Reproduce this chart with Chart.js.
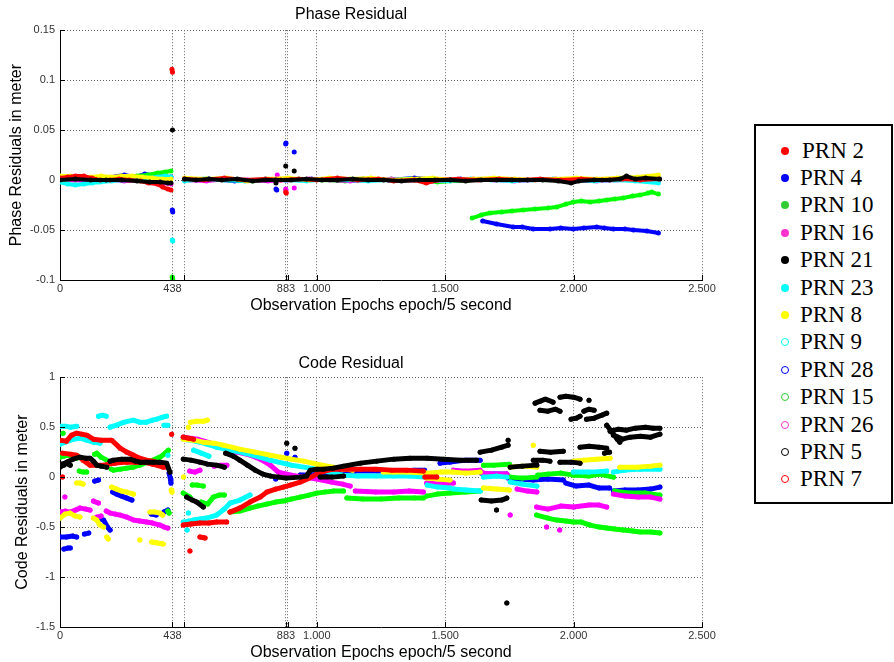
<!DOCTYPE html>
<html>
<head>
<meta charset="utf-8">
<title>Phase / Code Residual</title>
<script src="https://cdn.jsdelivr.net/npm/chart.js@4.4.1/dist/chart.umd.min.js"></script>
<style>
  body { margin: 0; background: #fff; width: 894px; height: 662px; position: relative; overflow: hidden; }
  .plot { position: absolute; left: 0; width: 720px; }
  #phaseBox { top: 0; height: 320px; }
  #codeBox { top: 340px; height: 322px; }
  #legend {
    position: absolute; left: 754px; top: 124px; width: 139px; height: 380px;
    box-sizing: border-box; border: 2px solid #000; padding-top: 11px;
    font-family: "Liberation Serif", "Times New Roman", serif; font-size: 23px; color: #000;
  }
  .row { height: 27.4px; display: flex; align-items: center; white-space: nowrap; }
  .dot { width: 8px; height: 8px; border-radius: 50%; margin-left: 25px; margin-right: 11px; box-sizing: border-box; flex: none; }
</style>
</head>
<body>
<div id="phaseBox" class="plot"><canvas id="phaseChart"></canvas></div>
<div id="codeBox" class="plot"><canvas id="codeChart"></canvas></div>
<div id="legend"></div>
<script>
// ticks of the epoch axis (two extra grid lines without label, like the matlab figure)
const epochTicks = [0, 438, 483, 880, 887, 1000, 1500, 2000, 2500];
const epochTickLabels = ['0', '438', '', '883', '', '1.000', '1.500', '2.000', '2.500'];
const phaseTicks = [-0.1, -0.05, 0, 0.05, 0.1, 0.15];
const phaseTickLabels = ['-0.1', '-0.05', '0', '0.05', '0.1', '0.15'];
const codeTicks = [-1.5, -1, -0.5, 0, 0.5, 1];
const codeTickLabels = ['-1.5', '-1', '-0.5', '0', '0.5', '1'];

// legend
const legendLabels = ['PRN 2', 'PRN 4', 'PRN 10', 'PRN 16', 'PRN 21', 'PRN 23', 'PRN 8', 'PRN 9', 'PRN 28', 'PRN 15', 'PRN 26', 'PRN 5', 'PRN 7'];
const legendColors = ['#ff0000', '#0000ff', '#33cc33', '#ff33cc', '#000000', '#00ffff', '#ffff00', '#00ffff', '#0000ff', '#33cc33', '#ff33cc', '#000000', '#ff0000'];
const legendFilled = [true, true, true, true, true, true, true, false, false, false, false, false, false];

// phase residuals [epoch, meter], null = gap between tracks
const phasePRN2 = [
  [0,0.002],[30,0.003],[60,0.004],[93,0.004],[125,0.002],[157,0.0],[195,0.0],[230,0.001],[270,0.0],[313,-0.001],[345,-0.003],[378,-0.004],[400,-0.007],[420,-0.009],[432,-0.010], null,
  [436,0.111],[438,0.108], null,
  [485,0.001],[560,0.0],[640,0.002],[720,0.0],[800,0.001],[860,0.0],[930,0.001],[1000,0.0],[1080,0.002],[1160,0.0],[1240,0.001],[1300,-0.001],[1380,0.0],[1426,-0.003],[1470,0.0],[1550,0.001],[1630,0.0],[1710,0.001],[1790,0.0],[1870,0.001],[1950,0.0],[2030,0.001],[2110,0.0],[2190,0.001],[2260,0.0],[2330,0.001], null,
  [879,-0.012],[881,-0.013]
];
const phasePRN4 = [
  [0,0.001],[60,0.001],[120,0.002],[180,0.002],[250,0.005],[290,0.003],[330,0.006],[380,0.004],[432,0.003], null,
  [437,-0.030],[439,-0.032], null,
  [485,0.0],[580,0.001],[680,-0.001],[780,0.0],[880,0.0],[980,0.001],[1080,0.0],[1180,0.001],[1280,0.0],[1380,0.002],[1480,0.0],[1560,0.001], null,
  [841,-0.009],[844,-0.010], null,
  [879,0.036],[880,0.037], null,
  [912,0.028], null,
  [1646,-0.041],[1700,-0.044],[1765,-0.047],[1800,-0.047],[1843,-0.049],[1908,-0.049],[1950,-0.048],[1999,-0.049],[2040,-0.048],[2090,-0.047],[2120,-0.048],[2155,-0.049],[2200,-0.049],[2233,-0.050],[2285,-0.051],[2330,-0.053]
];
const phasePRN10 = [
  [0,0.001],[60,0.0],[120,0.001],[180,0.002],[240,0.003],[300,0.004],[340,0.005],[380,0.007],[410,0.008],[432,0.009], null,
  [437,-0.097],[439,-0.099], null,
  [485,0.0],[570,0.001],[660,0.0],[750,-0.001],[840,0.0],[930,0.001],[1020,0.0],[1110,-0.001],[1200,0.0],[1290,0.001],[1380,0.0],[1470,-0.002],[1590,0.0], null,
  [1605,-0.038],[1640,-0.035],[1674,-0.033],[1720,-0.032],[1760,-0.031],[1804,-0.030],[1850,-0.029],[1900,-0.028],[1934,-0.027],[1970,-0.024],[1999,-0.022],[2030,-0.021],[2064,-0.022],[2100,-0.021],[2129,-0.020],[2160,-0.019],[2193,-0.018],[2230,-0.016],[2259,-0.015],[2290,-0.013],[2304,-0.012],[2330,-0.014]
];
const phasePRN16 = [
  [0,0.001],[50,0.0],[100,-0.001],[150,0.001],[200,0.0],[250,-0.001],[300,0.0],[350,-0.002],[400,-0.003],[432,-0.004], null,
  [485,0.0],[570,-0.001],[650,0.001],[730,0.0],[810,-0.001],[890,0.0],[970,0.001],[1050,0.0],[1130,-0.001],[1210,0.0],[1290,0.001],[1370,0.0],[1450,-0.001],[1530,0.0],[1610,0.001],[1690,0.0],[1770,-0.001],[1850,0.0],[1930,0.001],[2010,0.0],[2090,-0.001],[2170,0.0],[2250,0.001],[2330,-0.001], null,
  [846,0.005], null,
  [879,-0.009],[880,-0.010], null,
  [912,-0.008]
];
const phasePRN21 = [
  [0,0.0],[60,0.001],[120,0.0],[180,0.0],[240,0.0],[300,-0.001],[350,-0.002],[390,-0.002],[420,-0.003],[432,-0.003], null,
  [438,0.050], null,
  [485,0.001],[530,0.0],[580,0.001],[630,0.0],[690,0.001],[750,-0.001],[800,0.0],[840,0.0],[900,0.0],[960,0.001],[1020,0.0],[1080,0.0],[1140,0.001],[1200,0.0],[1260,0.0],[1330,-0.001],[1400,0.0],[1460,0.0],[1520,0.0],[1580,-0.001],[1640,0.0],[1700,0.0],[1760,0.0],[1820,0.0],[1880,0.0],[1940,-0.001],[1990,-0.003],[2020,-0.001],[2080,0.0],[2140,0.0],[2180,0.001],[2206,0.004],[2240,0.001],[2280,0.002],[2335,0.001], null,
  [841,-0.003], null,
  [879,0.014], null,
  [912,0.009]
];
const phasePRN23 = [
  [0,-0.002],[30,-0.004],[60,-0.005],[93,-0.004],[125,-0.003],[157,-0.002],[200,-0.001],[250,0.0],[300,0.001],[340,0.002],[380,0.003],[410,0.004],[432,0.003], null,
  [437,-0.060],[439,-0.061], null,
  [485,-0.001],[560,0.001],[640,0.0],[720,-0.001],[800,0.001],[880,0.0],[960,-0.001],[1040,0.001],[1120,0.0],[1200,-0.001],[1280,0.0],[1360,0.001],[1440,0.0],[1520,-0.001],[1600,0.001],[1680,0.0],[1760,-0.001],[1840,0.0],[1920,0.001],[2000,0.0],[2080,-0.001],[2160,0.0],[2240,-0.001],[2330,-0.003]
];
const phasePRN8 = [
  [0,0.004],[40,0.004],[80,0.002],[120,0.003],[160,0.004],[200,0.003],[240,0.004],[280,0.004],[320,0.003],[360,0.002],[400,0.001],[432,0.001], null,
  [485,0.002],[570,0.001],[650,0.002],[730,-0.001],[810,0.001],[890,0.002],[970,0.0],[1050,0.002],[1130,0.001],[1210,0.002],[1290,0.0],[1370,0.001],[1450,0.002],[1530,0.0],[1610,0.001],[1690,0.002],[1770,0.001],[1850,0.0],[1930,0.001],[2010,0.002],[2090,0.001],[2170,0.002],[2250,0.003],[2330,0.005]
];

// code residuals [epoch, meter]
const codePRN2 = [
  [0,0.37],[25,0.36],[45,0.42],[65,0.44],[85,0.43],[104,0.42],[130,0.38],[160,0.37],[201,0.37],[234,0.29],[260,0.25],[286,0.22],[310,0.19],[337,0.17],[360,0.16],[389,0.14],[415,0.10], null,
  [10,0.24],[40,0.23],[65,0.22],[90,0.17],[117,0.12],[145,0.12],[169,0.12],[215,0.14],[260,0.15],[295,0.15],[325,0.15],[360,0.13],[402,0.10], null,
  [10,0.0], null,
  [435,0.43], null,
  [480,0.40],[500,0.39],[520,0.38], null,
  [480,-0.48],[510,-0.47],[545,-0.46],[580,-0.46],[610,-0.45],[649,-0.45], null,
  [545,-0.60],[565,-0.61], null,
  [506,-0.74], null,
  [662,-0.35],[700,-0.31],[740,-0.25],[780,-0.20],[805,-0.15],[840,-0.12],[870,-0.10],[897,-0.08],[935,-0.05],[970,-0.01],[1000,0.03],[1030,0.06],[1064,0.08],[1117,0.08],[1170,0.08],[1230,0.08],[1290,0.07],[1350,0.07],[1415,0.06], null,
  [1421,0.0],[1467,0.0]
];
const codePRN4 = [
  [0,-0.60],[25,-0.60],[50,-0.59],[65,-0.60], null,
  [15,-0.72],[30,-0.71],[40,-0.71], null,
  [95,-0.57],[112,-0.56], null,
  [135,-0.04],[150,-0.03], null,
  [155,-0.42],[170,-0.43],[185,-0.50],[195,-0.53], null,
  [205,-0.15],[220,-0.17],[240,-0.19],[260,-0.21],[280,-0.23], null,
  [355,-0.37],[375,-0.38], null,
  [405,-0.35],[420,-0.33], null,
  [425,0.04],[430,-0.02],[432,-0.06], null,
  [840,-0.02], null, [883,0.24], null, [915,0.20], null,
  [935,0.02],[970,0.02],[1000,0.03],[1050,0.05],[1091,0.06],[1150,0.06],[1233,0.06],[1300,0.06],[1380,0.07],[1420,0.07], null,
  [1480,0.14],[1519,0.15],[1580,0.17],[1636,0.17], null,
  [1640,0.04],[1690,0.03],[1740,0.03], null,
  [1745,-0.01],[1790,-0.02],[1843,-0.03],[1900,-0.02],[1960,-0.03], null,
  [1970,-0.06],[2010,-0.09],[2060,-0.08],[2100,-0.11],[2140,-0.11], null,
  [2155,-0.14],[2200,-0.13],[2250,-0.13],[2300,-0.12],[2336,-0.10]
];
const codePRN10 = [
  [0,0.20],[15,0.21],[26,0.22],[45,0.21],[65,0.19], null,
  [75,0.06],[90,0.05],[104,0.05], null,
  [135,0.23],[143,0.24],[160,0.20],[182,0.17], null,
  [200,0.08],[208,0.07],[235,0.08],[260,0.09],[285,0.10],[311,0.12],[340,0.15],[363,0.17],[389,0.20],[410,0.24],[422,0.27], null,
  [12,0.44], null,
  [420,-0.34],[425,-0.36], null,
  [480,-0.16],[506,-0.20], null,
  [515,-0.08],[535,-0.08],[558,-0.09], null,
  [550,-0.25],[575,-0.27],[597,-0.20],[620,-0.18],[640,-0.18], null,
  [662,-0.35],[700,-0.34],[740,-0.31],[770,-0.29],[805,-0.27],[840,-0.25],[870,-0.24],[900,-0.22],[935,-0.20],[970,-0.18],[1000,-0.16],[1030,-0.15],[1064,-0.14],[1104,-0.14], null,
  [1117,-0.21],[1180,-0.22],[1250,-0.22],[1320,-0.21],[1380,-0.21],[1415,-0.21], null,
  [1428,-0.19],[1470,-0.17],[1519,-0.16],[1580,-0.15],[1636,-0.14], null,
  [1649,0.12],[1690,0.12],[1750,0.13], null,
  [1753,0.0],[1800,-0.01],[1857,0.0], null,
  [1860,0.02],[1900,0.03],[1950,0.04],[2000,0.02], null,
  [2000,0.02],[2060,0.01],[2100,0.03],[2155,0.0], null,
  [2160,-0.14],[2220,-0.16],[2280,-0.16],[2336,-0.18], null,
  [1856,-0.38],[1900,-0.41],[1934,-0.43],[1970,-0.44],[1999,-0.45],[2030,-0.45],[2064,-0.48],[2100,-0.50],[2129,-0.51],[2160,-0.52],[2193,-0.53],[2230,-0.54],[2259,-0.55],[2300,-0.55],[2336,-0.56]
];
const codePRN16 = [
  [0,-0.35],[20,-0.34],[39,-0.35],[60,-0.33],[78,-0.31],[100,-0.32],[117,-0.33], null,
  [130,-0.24],[150,-0.26], null,
  [143,-0.40],[160,-0.39], null,
  [180,-0.34],[195,-0.36],[215,-0.37],[234,-0.38],[260,-0.40],[286,-0.43],[310,-0.44],[337,-0.45],[360,-0.46],[389,-0.48],[405,-0.50],[420,-0.51], null,
  [19,-0.20], null,
  [480,0.40],[535,0.38],[600,0.33],[636,0.29],[690,0.25],[741,0.22],[780,0.18],[819,0.12],[850,0.05],[900,0.02],[950,0.0],[1000,-0.02],[1057,-0.05],[1100,-0.07],[1130,-0.09], null,
  [505,0.06],[525,0.05],[545,0.07], null,
  [600,0.11],[625,0.12],[650,0.12], null,
  [1150,-0.14],[1230,-0.15],[1300,-0.15],[1360,-0.14],[1415,-0.15], null,
  [1428,-0.06],[1480,-0.07],[1532,-0.06], null,
  [1532,0.07],[1580,0.06],[1636,0.07], null,
  [1649,0.04],[1700,0.03],[1740,0.03], null,
  [1780,-0.12],[1820,-0.14],[1857,-0.15], null,
  [1856,-0.30],[1900,-0.32],[1950,-0.29],[2000,-0.30],[2060,-0.28],[2100,-0.28],[2129,-0.30], null,
  [2155,-0.17],[2200,-0.19],[2250,-0.20],[2300,-0.20],[2336,-0.22], null,
  [1753,-0.38], null, [1895,-0.50], null, [1946,-0.53]
];
const codePRN21 = [
  [0,0.10],[15,0.12],[26,0.15],[50,0.18],[78,0.20],[100,0.19],[117,0.19],[130,0.16],[143,0.12],[160,0.11],[182,0.10], null,
  [195,0.16],[208,0.17],[240,0.18],[273,0.18],[295,0.16],[311,0.15],[340,0.15],[363,0.15],[389,0.15],[415,0.14],[428,0.05], null,
  [5,0.13],[20,0.14],[40,0.12], null,
  [480,0.18],[510,0.17],[545,0.15],[575,0.13],[610,0.12],[640,0.10], null,
  [493,-0.20],[515,-0.23],[532,-0.25],[558,-0.30], null,
  [645,0.24],[675,0.21],[700,0.17],[730,0.12],[760,0.07],[790,0.03],[820,0.01],[850,0.0],[880,-0.01],[935,0.0],[960,0.01],[975,0.07],[1000,0.08],[1026,0.08],[1064,0.09],[1104,0.11],[1170,0.14],[1233,0.16],[1300,0.18],[1363,0.19],[1430,0.19],[1493,0.18],[1560,0.17],[1622,0.17], null,
  [1013,0.0],[1060,0.0],[1104,0.01], null,
  [883,0.34], null, [915,0.29], null,
  [1636,0.25],[1680,0.27],[1720,0.30],[1745,0.32], null,
  [1745,0.37], null,
  [1640,-0.23],[1680,-0.24],[1720,-0.23],[1740,-0.21], null,
  [1700,-0.33], null,
  [1740,-1.26], null,
  [1753,0.10],[1800,0.11],[1857,0.12], null,
  [1843,0.17],[1880,0.17],[1908,0.16], null,
  [1869,0.26],[1910,0.25],[1960,0.26], null,
  [1947,0.15],[1990,0.15],[2025,0.14], null,
  [2025,0.30],[2060,0.31],[2100,0.30],[2129,0.29], null,
  [2120,0.24],[2140,0.25], null,
  [1850,0.74],[1870,0.76],[1890,0.78],[1920,0.75], null,
  [1869,0.67],[1900,0.66],[1930,0.68],[1947,0.66], null,
  [1947,0.80],[1970,0.81],[2000,0.80],[2025,0.78], null,
  [1990,0.58],[2010,0.59],[2025,0.61], null,
  [2040,0.66],[2060,0.68],[2080,0.67], null,
  [2050,0.58],[2080,0.59],[2110,0.62],[2129,0.64], null,
  [2060,0.77], null,
  [2129,0.52],[2150,0.45],[2170,0.38],[2180,0.35], null,
  [2142,0.46],[2175,0.48],[2206,0.47],[2240,0.49],[2280,0.50],[2310,0.49],[2336,0.49], null,
  [2155,0.42],[2190,0.38],[2220,0.40],[2260,0.41],[2300,0.40],[2336,0.43]
];
const codePRN23 = [
  [0,0.51],[20,0.51],[40,0.50],[65,0.51], null,
  [0,0.33],[20,0.35],[40,0.37],[78,0.39],[104,0.37],[130,0.35],[156,0.34], null,
  [150,0.61],[165,0.62],[180,0.61], null,
  [195,0.50],[220,0.52],[250,0.55],[286,0.57],[310,0.55],[337,0.55],[360,0.57],[376,0.58],[400,0.60],[415,0.61], null,
  [405,0.52],[420,0.52], null,
  [420,0.22], null,
  [415,0.12], null,
  [480,0.38],[545,0.35],[610,0.30],[660,0.27],[720,0.24],[818,0.17],[900,0.12],[1000,0.08],[1050,0.05],[1100,0.02],[1160,0.01],[1230,0.01],[1300,0.01],[1360,0.01],[1420,0.0], null,
  [1430,-0.08],[1470,-0.10],[1519,-0.11], null,
  [1532,-0.12],[1580,-0.13],[1636,-0.14], null,
  [1649,0.0],[1700,0.01],[1740,0.0], null,
  [1753,-0.05],[1800,-0.07],[1857,-0.09], null,
  [1999,0.05],[2060,0.05],[2129,0.06], null,
  [2155,0.05],[2200,0.07],[2260,0.08],[2336,0.08], null,
  [480,-0.45],[500,-0.44],[519,-0.43],[545,-0.42],[571,-0.41],[610,-0.38],[640,-0.32],[662,-0.26],[701,-0.23],[740,-0.18], null,
  [520,0.27],[550,0.24],[580,0.21], null,
  [500,-0.36], null,
  [495,-0.53]
];
const codePRN8 = [
  [0,-0.41],[20,-0.37],[39,-0.36],[60,-0.39],[78,-0.40], null,
  [65,-0.06],[80,-0.06],[90,-0.07], null,
  [130,-0.41],[143,-0.43],[156,-0.48],[170,-0.50], null,
  [182,-0.60],[188,-0.62], null,
  [201,-0.10],[220,-0.12],[240,-0.14],[260,-0.15],[286,-0.17], null,
  [311,-0.63], null,
  [350,-0.35],[370,-0.35],[389,-0.36],[400,-0.38], null,
  [357,-0.65],[380,-0.66],[402,-0.67], null,
  [433,-0.13],[436,-0.15], null,
  [481,0.0], null,
  [500,0.50], null,
  [508,0.55],[530,0.56],[560,0.56],[574,0.57], null,
  [480,0.38],[520,0.37],[558,0.35],[600,0.34],[636,0.32],[700,0.28],[760,0.25],[818,0.22],[860,0.20],[900,0.18],[950,0.16],[1000,0.13],[1064,0.10],[1100,0.08],[1140,0.07], null,
  [1259,0.05],[1300,0.05],[1350,0.05],[1428,0.04],[1480,0.05],[1532,0.05],[1580,0.04],[1636,0.05], null,
  [1428,-0.01],[1470,-0.02],[1519,-0.03], null,
  [1649,-0.11],[1700,-0.12],[1750,-0.13], null,
  [1843,0.32], null,
  [1753,0.10],[1800,0.11],[1857,0.10], null,
  [1999,0.16],[2040,0.17],[2090,0.18],[2142,0.19], null,
  [2180,0.10],[2250,0.10],[2300,0.11],[2336,0.12]
];

// colours used in the plot (matlab style) and drawing order (lower = on top)
const plotColors = { 2: '#ff0000', 4: '#0000ff', 10: '#00ff00', 16: '#ff00ff', 21: '#000000', 23: '#00ffff', 8: '#ffff00' };
const drawOrder = { 21: 0, 2: 1, 8: 2, 23: 3, 16: 4, 10: 5, 4: 6 };

function toPoints(track) {
  const pts = [];
  let lastX = 0;
  track.forEach(p => {
    if (p === null) {
      pts.push({ x: lastX, y: null });
    } else {
      pts.push({ x: p[0], y: p[1] });
      lastX = p[0];
    }
  });
  return pts;
}

function makeDataset(prn, track, width) {
  const c = plotColors[prn];
  return {
    label: 'PRN ' + prn,
    data: toPoints(track),
    showLine: true,
    spanGaps: false,
    borderColor: c,
    backgroundColor: c,
    borderWidth: width,
    borderCapStyle: 'round',
    borderJoinStyle: 'round',
    pointRadius: 2.5,
    pointBorderWidth: 0,
    pointBackgroundColor: c,
    tension: 0,
    order: drawOrder[prn]
  };
}

// inward tick marks on left and bottom axis
const innerTicks = {
  id: 'innerTicks',
  afterDraw(chart) {
    const { ctx, chartArea: a, scales: { x, y } } = chart;
    ctx.save();
    ctx.strokeStyle = '#000';
    ctx.lineWidth = 1;
    ctx.beginPath();
    x.ticks.forEach(t => {
      const px = Math.round(x.getPixelForValue(t.value)) + 0.5;
      ctx.moveTo(px, a.bottom);
      ctx.lineTo(px, a.bottom - 5);
    });
    y.ticks.forEach(t => {
      const py = Math.round(y.getPixelForValue(t.value)) + 0.5;
      ctx.moveTo(a.left, py);
      ctx.lineTo(a.left + 5, py);
    });
    ctx.stroke();
    ctx.restore();
  }
};

Chart.defaults.font.family = '"Liberation Sans", Arial, sans-serif';
Chart.defaults.color = '#222';

function makeChart(id, opt) {
  return new Chart(document.getElementById(id), {
    type: 'scatter',
    data: { datasets: opt.datasets },
    options: {
      responsive: true,
      maintainAspectRatio: false,
      animation: false,
      layout: { padding: { left: 0, right: 18, top: 0, bottom: 0 } },
      plugins: {
        legend: { display: false },
        tooltip: { enabled: false },
        title: {
          display: true,
          text: opt.title,
          color: '#000',
          font: { size: 16, weight: 'normal' },
          padding: opt.titlePad
        }
      },
      scales: {
        x: {
          type: 'linear',
          min: 0,
          max: 2500,
          afterFit: s => { s.height = opt.xHeight; },
          afterBuildTicks: s => { s.ticks = epochTicks.map(v => ({ value: v })); },
          ticks: {
            autoSkip: false,
            maxRotation: 0,
            minRotation: 0,
            padding: 2,
            color: '#333',
            font: { size: 11 },
            callback: (v, i) => epochTickLabels[i]
          },
          grid: { color: '#666', lineWidth: 1, drawTicks: false },
          border: { display: true, color: '#000', width: 1, dash: [1, 2] },
          title: {
            display: true,
            text: 'Observation Epochs epoch/5 second',
            color: '#000',
            font: { size: 16 },
            padding: { top: 0, bottom: opt.xTitlePad }
          }
        },
        y: {
          type: 'linear',
          min: opt.yTicks[0],
          max: opt.yTicks[opt.yTicks.length - 1],
          afterFit: s => { s.width = 60; },
          afterBuildTicks: s => { s.ticks = opt.yTicks.map(v => ({ value: v })); },
          ticks: {
            padding: 5,
            color: '#333',
            font: { size: 11 },
            callback: (v, i) => opt.yTickLabels[i]
          },
          grid: { color: '#666', lineWidth: 1, drawTicks: false },
          border: { display: true, color: '#000', width: 1, dash: [1, 2] },
          title: {
            display: true,
            text: opt.yTitle,
            color: '#000',
            font: { size: 16 },
            padding: { top: opt.yTitlePad, bottom: 0 }
          }
        }
      }
    },
    plugins: [innerTicks]
  });
}

makeChart('phaseChart', {
  title: 'Phase Residual',
  yTitle: 'Phase Residuals in meter',
  yTicks: phaseTicks,
  yTickLabels: phaseTickLabels,
  titlePad: { top: 5, bottom: 6 },
  xHeight: 40,
  xTitlePad: 5,
  yTitlePad: 7,
  datasets: [
    makeDataset(2, phasePRN2, 4),
    makeDataset(4, phasePRN4, 4),
    makeDataset(10, phasePRN10, 4),
    makeDataset(16, phasePRN16, 4),
    makeDataset(21, phasePRN21, 4),
    makeDataset(23, phasePRN23, 4),
    makeDataset(8, phasePRN8, 4)
  ]
});

makeChart('codeChart', {
  title: 'Code Residual',
  yTitle: 'Code Residuals in meter',
  yTicks: codeTicks,
  yTickLabels: codeTickLabels,
  titlePad: { top: 13.5, bottom: 4.5 },
  xHeight: 35,
  xTitlePad: 0,
  yTitlePad: 13,
  datasets: [
    makeDataset(2, codePRN2, 5),
    makeDataset(4, codePRN4, 5),
    makeDataset(10, codePRN10, 5),
    makeDataset(16, codePRN16, 5),
    makeDataset(21, codePRN21, 5),
    makeDataset(23, codePRN23, 5),
    makeDataset(8, codePRN8, 5)
  ]
});

// legend box on the right
const legendBox = document.getElementById('legend');
legendLabels.forEach((label, i) => {
  const row = document.createElement('div');
  row.className = 'row';
  const dot = document.createElement('span');
  dot.className = 'dot';
  if (legendFilled[i]) {
    dot.style.background = legendColors[i];
  } else {
    dot.style.border = '1px solid ' + legendColors[i];
  }
  const text = document.createElement('span');
  text.textContent = label;
  if (i === 0) text.style.marginLeft = '2px';
  row.appendChild(dot);
  row.appendChild(text);
  legendBox.appendChild(row);
});
</script>
</body>
</html>
